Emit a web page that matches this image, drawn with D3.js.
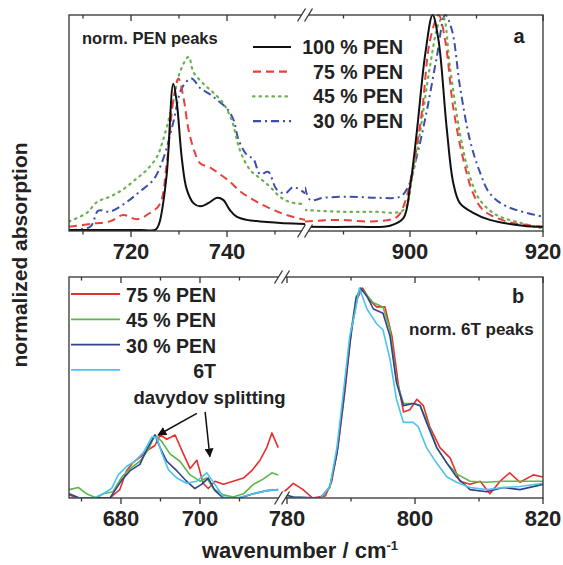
<!DOCTYPE html>
<html><head><meta charset="utf-8">
<script src="https://cdn.jsdelivr.net/npm/d3@7"></script>
<style>
html,body{margin:0;padding:0;background:#fff;}
svg text{font-family:"Liberation Sans",Arial,Helvetica,sans-serif;font-weight:bold;fill:#222;}
</style></head>
<body>
<svg id="chart" width="563" height="565"></svg>
<script>
// ---------------- DATA ----------------
// Panel a: normalized PEN peaks, [wavenumber, value]
const legendA = ["100 % PEN", "75 % PEN", "45 % PEN", "30 % PEN"];
const a100L = [[707.1,0],[712,0],[718,0],[722,0],[725,0],[725.5,0.012],[726,0.04],[727.4,0.25],[728.8,0.68],[729.5,0.6],[730.6,0.33],[731.6,0.19],[733,0.125],[734.4,0.11],[736.1,0.125],[737.9,0.15],[739.2,0.14],[740.6,0.093],[742,0.062],[744.1,0.047],[746.9,0.04],[753.8,0.03],[756.3,0.028]];
const a75L = [[707.1,0.015],[712.1,0.03],[715.6,0.04],[718.4,0.07],[721.2,0.05],[724,0.08],[726,0.12],[727.4,0.3],[728.8,0.6],[729.9,0.705],[730.9,0.62],[732,0.465],[733.3,0.36],[734.4,0.31],[736.5,0.29],[738.5,0.26],[740.6,0.225],[742.7,0.18],[745.5,0.14],[749,0.1],[752.4,0.07],[756.3,0.047]];
const a45L = [[707.1,0.04],[710.8,0.08],[712.9,0.13],[715.6,0.155],[718.4,0.19],[721.2,0.24],[723.3,0.28],[725.4,0.34],[726.7,0.42],[728.5,0.57],[730.2,0.735],[732,0.805],[733,0.735],[735.1,0.68],[737.1,0.64],[739.2,0.59],[741,0.51],[742.7,0.37],[744.8,0.28],[746.9,0.24],[749,0.2],[751,0.155],[753.1,0.13],[756.3,0.12]];
const a30L = [[707.1,0],[711.5,0.015],[713.2,0.09],[715.6,0.085],[719.1,0.13],[721.9,0.18],[724.7,0.235],[726.7,0.33],[728.8,0.5],[730.6,0.66],[732.6,0.705],[734.4,0.66],[736.5,0.63],[738.2,0.6],[740,0.565],[741.4,0.51],[742.4,0.42],[744.1,0.35],[745.5,0.33],[746.9,0.26],[748.6,0.27],[750.3,0.19],[752.1,0.17],[753.8,0.2],[756.3,0.17]];
const a100R = [[884.2,0.015],[892,0.015],[897,0.02],[899,0.055],[900,0.2],[901,0.45],[902.3,0.82],[903.4,1.0],[904.3,0.88],[905.5,0.48],[906.5,0.22],[907.5,0.125],[909.5,0.08],[912,0.047],[917,0.02],[920,0.015]];
const a75R = [[884.2,0.04],[889.5,0.047],[894.4,0.04],[898,0.06],[899.2,0.125],[900.5,0.3],[901.8,0.55],[903,0.88],[904.3,1.0],[905.3,0.88],[906.5,0.57],[908,0.33],[909.5,0.17],[911,0.093],[914.5,0.04],[920,0.015]];
const a45R = [[884.2,0.093],[889.5,0.085],[894.4,0.085],[899,0.093],[900.3,0.24],[901.5,0.45],[903,0.76],[904.3,0.96],[905,0.99],[906,0.76],[907.5,0.45],[909,0.25],[910.5,0.14],[913,0.07],[917,0.03],[920,0.007]];
const a30R = [[884.2,0.2],[885,0.14],[887,0.15],[891,0.155],[895,0.15],[898.5,0.155],[899.7,0.2],[901,0.34],[902.5,0.55],[904,0.8],[905.3,1.0],[906.3,0.93],[907.5,0.67],[909,0.42],[910.5,0.27],[912,0.17],[914.5,0.11],[920,0.062]];

// Panel b: normalized 6T peaks
const legendB = ["75 % PEN", "45 % PEN", "30 % PEN", "6T"];
const b75L = [[666.9,0.015],[668.8,0],[673,0],[677.2,0],[679.7,0.04],[681.4,0.13],[683.1,0.17],[685.2,0.2],[686.9,0.23],[688.6,0.25],[689.9,0.3],[691.6,0.28],[693.7,0.3],[695.8,0.21],[697.5,0.14],[699.2,0.18],[700.8,0.07],[702.1,0.045],[703.8,0.08],[705.9,0.065],[708.4,0.08],[711,0.095],[713.1,0.13],[715.2,0.18],[716.9,0.24],[718.2,0.31],[719.8,0.24]];
const b45L = [[666.9,0.04],[669.2,0.05],[671.3,0.02],[673.8,0],[675.5,0.02],[678,0.03],[680.2,0.1],[682.3,0.14],[684.8,0.175],[686.9,0.23],[688.6,0.3],[690.3,0.27],[692.4,0.21],[694.9,0.175],[697.5,0.11],[700,0.08],[701.7,0.095],[703.4,0.045],[705.9,0.015],[708.4,0.005],[711,0.02],[713.5,0.065],[716,0.09],[718.2,0.12],[719.8,0.11]];
const b30L = [[666.9,0.02],[669.5,0],[677.2,0],[680.2,0.085],[682.3,0.13],[684.8,0.16],[686.5,0.23],[688.6,0.3],[689.9,0.24],[691.6,0.175],[694.1,0.13],[696.6,0.08],[698.7,0.045],[700.4,0.065],[702.1,0.095],[703.8,0.035],[705.9,0],[710.1,0],[713.5,0.02],[716.9,0.035],[719.8,0.04]];
const b6TL = [[666.9,0],[673,0],[675.5,0.02],[677.6,0.045],[679.3,0.11],[681.4,0.15],[683.5,0.175],[685.6,0.215],[687.8,0.29],[689,0.29],[690.3,0.215],[692,0.135],[694.1,0.095],[696.6,0.07],[699.2,0.08],[701.7,0.12],[703.8,0.065],[705.9,0.005],[709.3,0],[713.5,0.02],[716.9,0.035],[719.8,0.04]];
const b75R = [[779.2,0.02],[781,0.07],[782.5,0.04],[784,0],[786,0.01],[787,0.08],[788,0.25],[789.1,0.52],[790.1,0.81],[791,0.95],[791.8,1.0],[793,0.94],[794,0.91],[795.3,0.91],[796.4,0.77],[797.4,0.54],[798.2,0.41],[799.2,0.42],[800.3,0.47],[801.3,0.44],[802.3,0.34],[803.9,0.24],[805.5,0.19],[807,0.08],[808.6,0.065],[810.2,0.08],[811.7,0.02],[813.3,0.08],[814.8,0.12],[816.4,0.075],[818.5,0.11],[820,0.1]];
const b45R = [[779.2,0.005],[785.2,0],[786.7,0.05],[787.8,0.22],[788.8,0.47],[789.8,0.75],[790.8,0.96],[791.8,0.99],[793.5,0.93],[795,0.91],[796.1,0.8],[797.1,0.56],[798.2,0.45],[799.7,0.45],[800.8,0.44],[801.8,0.37],[803.4,0.24],[805,0.165],[806.5,0.115],[808.6,0.08],[811.2,0.075],[813.8,0.08],[820,0.08]];
const b30R = [[779.2,0.02],[781,0.005],[785.2,0],[786.7,0.054],[787.8,0.21],[788.8,0.46],[789.8,0.73],[790.8,0.95],[791.5,1.0],[792.5,0.96],[793.5,0.9],[795,0.88],[796.1,0.77],[797.1,0.55],[798.2,0.44],[799.7,0.45],[800.8,0.44],[801.8,0.36],[803.4,0.24],[805,0.165],[806.5,0.1],[808.6,0.04],[811.2,0.03],[813.8,0.05],[816.4,0.04],[820,0.065]];
const b6TR = [[779.2,0],[785.2,0],[786.7,0.054],[787.8,0.24],[788.8,0.5],[789.8,0.77],[790.6,0.88],[791.3,1.0],[792.5,0.9],[794,0.83],[795,0.8],[796.1,0.66],[797.1,0.47],[798.2,0.36],[799.7,0.36],[800.5,0.34],[801.8,0.24],[803.4,0.165],[805,0.1],[806.5,0.075],[808.6,0.05],[811.2,0.04],[813.8,0.05],[816.4,0.055],[820,0.07]];

// tick values
const ticksA_L = [710,720,730,740,750], labelsA_L = [720,740];
const ticksA_R = [890,900,910,920], labelsA_R = [900,920];
const ticksB_L = [670,680,690,700,710], labelsB_L = [680,700];
const ticksB_R = [780,790,800,810,820], labelsB_R = [780,800,820];

// annotation arrows (data units of panel b left): [fromX, fromY, toX, toY]
const arrowsB = [[699.2,0.403,689.4,0.30],[701.3,0.41,702.5,0.197]];

// ---------------- DRAWING ----------------
const svg = d3.select("#chart");
const X0 = 69, X1 = 543;

function panel(cfg){
  const g = svg.append("g");
  const y = d3.scaleLinear().domain([0,1]).range([cfg.y0, cfg.y1]);
  const xL = d3.scaleLinear().domain(cfg.domL).range([X0, cfg.bx]);
  const xR = d3.scaleLinear().domain(cfg.domR).range([cfg.bx, X1]);
  const id = cfg.id;
  const defs = svg.append("defs");
  defs.append("clipPath").attr("id", id+"L").append("rect")
    .attr("x", X0).attr("y", cfg.top-2).attr("width", cfg.bx-X0).attr("height", cfg.bot-cfg.top+2);
  defs.append("clipPath").attr("id", id+"R").append("rect")
    .attr("x", cfg.bx).attr("y", cfg.top-2).attr("width", X1-cfg.bx).attr("height", cfg.bot-cfg.top+2);
  // series
  cfg.series.forEach(s=>{
    [[s.L, xL, "L"],[s.R, xR, "R"]].forEach(([data, x, side])=>{
      const line = d3.line().x(d=>x(d[0])).y(d=>y(d[1])).curve(cfg.curve);
      g.append("path").attr("d", line(data)).attr("clip-path", `url(#${id+side})`)
        .attr("fill","none").attr("stroke", s.color).attr("stroke-width", s.w)
        .attr("stroke-dasharray", s.dash || null).attr("stroke-linecap", s.cap || "butt")
        .attr("stroke-linejoin","round");
    });
  });
  // frame
  const ax = "#333";
  g.append("rect").attr("x", X0).attr("y", cfg.top).attr("width", X1-X0).attr("height", cfg.bot-cfg.top)
    .attr("fill","none").attr("stroke", ax).attr("stroke-width", 1.3);
  // ticks
  const drawTicks = (x, ticks, labels) => {
    ticks.forEach(t=>{
      const len = labels.includes(t) ? 6 : 3.5;
      const px = x(t);
      g.append("line").attr("x1",px).attr("x2",px).attr("y1",cfg.bot).attr("y2",cfg.bot+len).attr("stroke",ax).attr("stroke-width",1.3);
      g.append("line").attr("x1",px).attr("x2",px).attr("y1",cfg.top).attr("y2",cfg.top+len).attr("stroke",ax).attr("stroke-width",1.3);
    });
    labels.forEach(t=>{
      g.append("text").attr("x", x(t)).attr("y", cfg.bot+28).attr("text-anchor","middle")
        .style("font-size","22px").text(t);
    });
  };
  drawTicks(xL, cfg.ticksL, cfg.labelsL);
  drawTicks(xR, cfg.ticksR, cfg.labelsR);
  // break marks
  [cfg.top, cfg.bot].forEach(yy=>{
    g.append("polygon").attr("points", [[cfg.bx-7.5,yy+6.5],[cfg.bx+0.5,yy-6.5],[cfg.bx+7.5,yy-6.5],[cfg.bx-0.5,yy+6.5]].map(p=>p.join(",")).join(" "))
      .attr("fill","#fff");
    [-3.5,3.5].forEach(k=>{
      g.append("line").attr("x1",cfg.bx+k-4).attr("y1",yy+6.5).attr("x2",cfg.bx+k+4).attr("y2",yy-6.5)
        .attr("stroke",ax).attr("stroke-width",1.3);
    });
  });
  return {g, xL, xR, y};
}

// Panel a
const cRed="#e8413c", cGreen="#6bb150", cBlue="#3c4fa8";
const pa = panel({
  id:"pa", top:15, bot:231, y0:230, y1:15, bx:305,
  domL:[707.08,756.25], domR:[884.21,920],
  curve: d3.curveCatmullRom.alpha(0.5),
  ticksL:ticksA_L, labelsL:labelsA_L, ticksR:ticksA_R, labelsR:labelsA_R,
  series:[
    {L:a30L, R:a30R, color:cBlue, w:2, dash:"8,4,2,4"},
    {L:a45L, R:a45R, color:cGreen, w:2.2, dash:"1.5,5", cap:"round"},
    {L:a75L, R:a75R, color:cRed, w:2, dash:"8,5"},
    {L:a100L, R:a100R, color:"#111", w:2}
  ]
});
// Panel b
const bRed="#e5302d", bGreen="#5cb848", bBlue="#33418f", bCyan="#4cc4ea";
const pb = panel({
  id:"pb", top:277, bot:498, y0:498, y1:288, bx:282,
  domL:[666.84,720.76], domR:[779.22,820],
  curve: d3.curveLinear,
  ticksL:ticksB_L, labelsL:labelsB_L, ticksR:ticksB_R, labelsR:labelsB_R,
  series:[
    {L:b75L, R:b75R, color:bRed, w:1.6},
    {L:b45L, R:b45R, color:bGreen, w:1.6},
    {L:b30L, R:b30R, color:bBlue, w:1.6},
    {L:b6TL, R:b6TR, color:bCyan, w:1.6}
  ]
});

// Legend a
const legAStyle = [
  {color:"#111", dash:null},
  {color:cRed, dash:"8,5"},
  {color:cGreen, dash:"1.5,5", cap:"round"},
  {color:cBlue, dash:"8,4,2,4"}
];
legendA.forEach((t,i)=>{
  const yb = 54 + i*24.7;
  svg.append("line").attr("x1",253).attr("x2",291).attr("y1",yb-7).attr("y2",yb-7)
    .attr("stroke",legAStyle[i].color).attr("stroke-width",2.2)
    .attr("stroke-dasharray",legAStyle[i].dash).attr("stroke-linecap",legAStyle[i].cap||"butt");
  svg.append("text").attr("x",403).attr("y",yb).attr("text-anchor","end").style("font-size","19.5px").text(t);
});
svg.append("text").attr("x",82).attr("y",44).style("font-size","16.5px").text("norm. PEN peaks");
svg.append("text").attr("x",519).attr("y",43).attr("text-anchor","middle").style("font-size","20px").text("a");

// Legend b
const legBColors = [bRed,bGreen,bBlue,bCyan];
legendB.forEach((t,i)=>{
  const yl = 294 + i*25.3;
  svg.append("line").attr("x1",71).attr("x2",120).attr("y1",yl).attr("y2",yl)
    .attr("stroke",legBColors[i]).attr("stroke-width",1.8);
  svg.append("text").attr("x",216).attr("y",yl+8).attr("text-anchor","end").style("font-size","19.5px").text(t);
});
svg.append("text").attr("x",518).attr("y",303).attr("text-anchor","middle").style("font-size","20px").text("b");
svg.append("text").attr("x",409).attr("y",335).style("font-size","17px").text("norm. 6T peaks");

// annotation
svg.append("text").attr("x",209.5).attr("y",404).attr("text-anchor","middle").style("font-size","18.5px").text("davydov splitting");
const defs2 = svg.append("defs");
defs2.append("marker").attr("id","arr").attr("viewBox","0 0 10 10").attr("refX",9).attr("refY",5)
  .attr("markerWidth",9).attr("markerHeight",9).attr("markerUnits","userSpaceOnUse").attr("orient","auto")
  .append("path").attr("d","M0,0 L10,5 L0,10 z").attr("fill","#111");
arrowsB.forEach(a=>{
  svg.append("line").attr("x1",pb.xL(a[0])).attr("y1",pb.y(a[1])).attr("x2",pb.xL(a[2])).attr("y2",pb.y(a[3]))
    .attr("stroke","#111").attr("stroke-width",1.5).attr("marker-end","url(#arr)");
});

// axis titles
svg.append("text").attr("transform","translate(27,255) rotate(-90)").attr("text-anchor","middle")
  .style("font-size","21px").text("normalized absorption");
const xt = svg.append("text").attr("x",300).attr("y",558).attr("text-anchor","middle").style("font-size","22px");
xt.append("tspan").text("wavenumber / cm");
xt.append("tspan").attr("dy",-8).style("font-size","13px").text("-1");
</script>
</body></html>
